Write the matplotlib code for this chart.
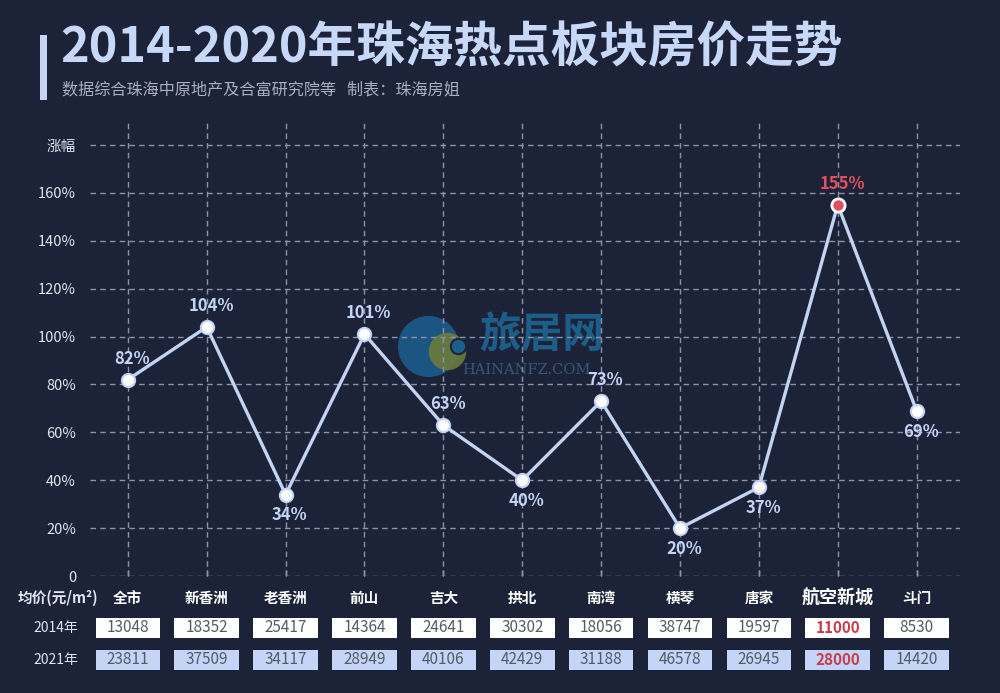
import numpy as np
import matplotlib.pyplot as plt
import matplotlib.transforms as mtransforms
from matplotlib.patches import Rectangle

plt.rcParams['font.family'] = ['Noto Sans CJK SC', 'DejaVu Sans']

# 数据
areas = ["全市", "新香洲", "老香洲", "前山", "吉大", "拱北", "南湾", "横琴", "唐家", "航空新城", "斗门"]
growth = [82, 104, 34, 101, 63, 40, 73, 20, 37, 155, 69]
price_2014 = [13048, 18352, 25417, 14364, 24641, 30302, 18056, 38747, 19597, 11000, 8530]
price_2021 = [23811, 37509, 34117, 28949, 40106, 42429, 31188, 46578, 26945, 28000, 14420]
label_pos = ["up", "up", "down", "up", "up", "down", "up", "down", "down", "up", "down"]
y_ticks = [0, 20, 40, 60, 80, 100, 120, 140, 160, 180]
y_labels = ["0", "20%", "40%", "60%", "80%", "100%", "120%", "140%", "160%", "涨幅"]
hot = "航空新城"

bg = "#1c2339"
line_c = "#c3d3f3"
red = "#e0505e"

fig = plt.figure(figsize=(10, 6.93), dpi=100, facecolor=bg)

# 标题
fig.add_artist(Rectangle((0.040, 1 - 100 / 693), 0.007, 65 / 693, transform=fig.transFigure,
                         color="#c8d4f4", lw=0))
fig.text(0.060, 1 - 48 / 693, "2014-2020年珠海热点板块房价走势", fontsize=35, fontweight="bold",
         color="#c8d8f8", va="center", ha="left")
fig.text(0.062, 1 - 90 / 693, "数据综合珠海中原地产及合富研究院等   制表：珠海房姐", fontsize=11.6,
         color="#a8b0c8", va="center", ha="left")

ax = fig.add_axes([0.09, 0.1688, 0.87, 0.6566])
ax.set_facecolor(bg)
x = np.arange(len(areas))
ax.set_xlim(-0.48, 10.55)
ax.set_ylim(0, 190)

for s in ax.spines.values():
    s.set_visible(False)
grid_c = "#8a92aa"
for yv in y_ticks:
    ax.axhline(yv, color=grid_c, lw=1, ls=(0, (4, 3)), zorder=2)
for xv in x:
    ax.axvline(xv, color=grid_c, lw=1, ls=(0, (4, 3)), zorder=2)

ax.set_yticks(y_ticks)
ax.set_yticklabels(y_labels)
ax.tick_params(axis="y", length=0, colors="#e0e4ee", labelsize=10.5, pad=10)
ax.set_xticks(x)
ax.set_xticklabels([])
ax.tick_params(axis="x", direction="in", length=4, color="#c0c4d0", width=1)

# 水印
ax.plot(3.8, 96, "o", ms=44, mfc="#1b5f8f", mec="none", alpha=0.85, zorder=1.5)
ax.plot(4.05, 94, "o", ms=27, mfc="#6d7a3c", mec="none", alpha=0.9, zorder=1.6)
ax.plot(4.18, 96, "o", ms=11, mfc="#1b5f8f", mec="#1c2339", mew=1.5, zorder=1.7)
ax.text(5.25, 101, "旅居网", fontsize=30, fontweight="bold", color="#1e6592", ha="center",
        va="center", alpha=0.9, zorder=1.5)
ax.text(5.05, 86, "HAINANFZ.COM", fontsize=10.5, family="DejaVu Serif", color="#3d5575",
        ha="center", va="center", zorder=1.5)

ax.plot(x, growth, color=line_c, lw=2.4, zorder=3)
for i, (xi, g) in enumerate(zip(x, growth)):
    is_hot = areas[i] == hot
    ax.plot(xi, g, "o", ms=9.5, mfc=red if is_hot else "white", mec="white" if is_hot else line_c,
            mew=2 if is_hot else 1.5, zorder=4)
    dy = 15 if label_pos[i] == "up" else -15
    ax.annotate(f"{g}%", (xi, g), xytext=(3, dy), textcoords="offset points",
                ha="center", va="center", fontsize=12, fontweight="bold",
                color=red if is_hot else line_c, zorder=5)

# 表格
trans = mtransforms.blended_transform_factory(ax.transData, fig.transFigure)
fig.text(0.058, 1 - 598 / 693, "均价(元/m²)", fontsize=10.5, fontweight="bold", color="#e0e4ee",
         ha="center", va="center")
fig.text(0.078, 1 - 628 / 693, "2014年", fontsize=10, color="#e0e4ee", ha="right", va="center")
fig.text(0.078, 1 - 660 / 693, "2021年", fontsize=10, color="#e0e4ee", ha="right", va="center")

bw = 0.82
bh = 20 / 693
for i, name in enumerate(areas):
    is_hot = name == hot
    ax.text(x[i], 1 - 598 / 693, name, transform=trans, ha="center", va="center",
            fontsize=13 if is_hot else 10.5, fontweight="bold", color="white")
    for yc, val, fc in [(628, price_2014[i], "white"), (660, price_2021[i], "#c5d5f7")]:
        yf = 1 - yc / 693
        fig.add_artist(Rectangle((x[i] - bw / 2, yf - bh / 2), bw, bh, transform=trans,
                                 facecolor=fc, edgecolor="none"))
        fig.text(x[i], yf, str(val), transform=trans, ha="center", va="center", fontsize=11,
                 color="#c83c50" if is_hot else "#555a66",
                 fontweight="bold" if is_hot else "normal")

fig.savefig("out.png", dpi=100, facecolor=bg)
